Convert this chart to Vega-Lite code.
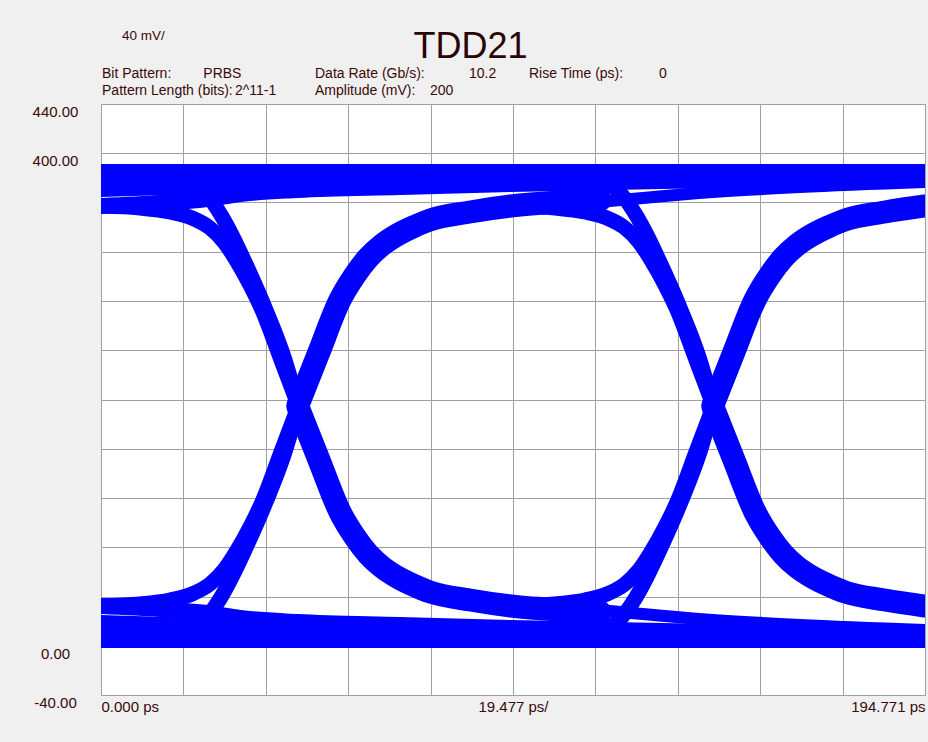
{
  "$schema": "https://vega.github.io/schema/vega-lite/v6.json",
  "width": 824,
  "height": 591,
  "autosize": "none",
  "padding": {"left": 101, "top": 104, "right": 3, "bottom": 47},
  "background": "#f0f0f0",
  "config": {"view": {"fill": "white", "stroke": "#a0a0a0", "strokeWidth": 1}, "font": "Liberation Sans"},
  "datasets": {
    "traces": [
      {"s":"S1","g":"settled","t":0,"v":383.55},{"s":"S1","g":"settled","t":97.39,"v":383.55},{"s":"S1","g":"settled","t":194.77,"v":383.55},
      {"s":"S1m","g":"settled","t":0,"v":5.89},{"s":"S1m","g":"settled","t":97.39,"v":5.89},{"s":"S1m","g":"settled","t":194.77,"v":5.89},

      {"s":"S2","g":"recent","t":0,"v":357.16},{"s":"S2","g":"recent","t":13.95,"v":359.6},{"s":"S2","g":"recent","t":25.05,"v":362.84},{"s":"S2","g":"recent","t":32.86,"v":366.9},{"s":"S2","g":"recent","t":46.57,"v":370.15},{"s":"S2","g":"recent","t":70.67,"v":372.59},{"s":"S2","g":"recent","t":96.91,"v":375.03},{"s":"S2","g":"recent","t":144.66,"v":378.28},{"s":"S2","g":"recent","t":194.77,"v":380.71},
      {"s":"S2m","g":"recent","t":0,"v":32.28},{"s":"S2m","g":"recent","t":13.95,"v":29.85},{"s":"S2m","g":"recent","t":25.05,"v":26.6},{"s":"S2m","g":"recent","t":32.86,"v":22.54},{"s":"S2m","g":"recent","t":46.57,"v":19.29},{"s":"S2m","g":"recent","t":70.67,"v":16.85},{"s":"S2m","g":"recent","t":96.91,"v":14.42},{"s":"S2m","g":"recent","t":144.66,"v":11.17},{"s":"S2m","g":"recent","t":194.77,"v":8.73},
      {"s":"S2b","g":"mid","t":0,"v":370.15},{"s":"S2b","g":"mid","t":23.4,"v":372.59},{"s":"S2b","g":"mid","t":46.57,"v":375.03},{"s":"S2b","g":"mid","t":96.91,"v":378.28},{"s":"S2b","g":"mid","t":144.66,"v":380.71},{"s":"S2b","g":"mid","t":194.77,"v":382.33},
      {"s":"S2bm","g":"mid","t":0,"v":19.29},{"s":"S2bm","g":"mid","t":23.4,"v":16.85},{"s":"S2bm","g":"mid","t":46.57,"v":14.42},{"s":"S2bm","g":"mid","t":96.91,"v":11.17},{"s":"S2bm","g":"mid","t":144.66,"v":8.73},{"s":"S2bm","g":"mid","t":194.77,"v":7.11},

      {"s":"S3","g":"after","t":46.57,"v":195.53},{"s":"S3","g":"after","t":51.53,"v":238.58},{"s":"S3","g":"after","t":56.49,"v":280.82},{"s":"S3","g":"after","t":60.04,"v":301.12},{"s":"S3","g":"after","t":63.11,"v":314.93},{"s":"S3","g":"after","t":66.42,"v":325.49},{"s":"S3","g":"after","t":69.97,"v":333.61},{"s":"S3","g":"after","t":73.75,"v":340.1},{"s":"S3","g":"after","t":77.77,"v":345.79},{"s":"S3","g":"after","t":87.22,"v":352.29},{"s":"S3","g":"after","t":96.91,"v":357.16},{"s":"S3","g":"after","t":108.49,"v":360.41},{"s":"S3","g":"after","t":117.95,"v":362.03},
      {"s":"S3m","g":"after","t":46.57,"v":193.9},{"s":"S3m","g":"after","t":51.53,"v":150.86},{"s":"S3m","g":"after","t":56.49,"v":108.63},{"s":"S3m","g":"after","t":60.04,"v":88.32},{"s":"S3m","g":"after","t":63.11,"v":74.52},{"s":"S3m","g":"after","t":66.42,"v":63.96},{"s":"S3m","g":"after","t":69.97,"v":55.84},{"s":"S3m","g":"after","t":73.75,"v":49.34},{"s":"S3m","g":"after","t":77.77,"v":43.65},{"s":"S3m","g":"after","t":87.22,"v":37.16},{"s":"S3m","g":"after","t":96.91,"v":32.28},{"s":"S3m","g":"after","t":108.49,"v":29.04},{"s":"S3m","g":"after","t":117.95,"v":27.41},
      {"s":"S4","g":"after","t":144.66,"v":195.53},{"s":"S4","g":"after","t":149.62,"v":238.58},{"s":"S4","g":"after","t":154.59,"v":280.82},{"s":"S4","g":"after","t":158.13,"v":301.12},{"s":"S4","g":"after","t":161.2,"v":314.93},{"s":"S4","g":"after","t":164.51,"v":325.49},{"s":"S4","g":"after","t":168.06,"v":333.61},{"s":"S4","g":"after","t":171.84,"v":340.1},{"s":"S4","g":"after","t":175.86,"v":345.79},{"s":"S4","g":"after","t":185.31,"v":352.29},{"s":"S4","g":"after","t":194.77,"v":357.16},
      {"s":"S4m","g":"after","t":144.66,"v":193.9},{"s":"S4m","g":"after","t":149.62,"v":150.86},{"s":"S4m","g":"after","t":154.59,"v":108.63},{"s":"S4m","g":"after","t":158.13,"v":88.32},{"s":"S4m","g":"after","t":161.2,"v":74.52},{"s":"S4m","g":"after","t":164.51,"v":63.96},{"s":"S4m","g":"after","t":168.06,"v":55.84},{"s":"S4m","g":"after","t":171.84,"v":49.34},{"s":"S4m","g":"after","t":175.86,"v":43.65},{"s":"S4m","g":"after","t":185.31,"v":37.16},{"s":"S4m","g":"after","t":194.77,"v":32.28},

      {"s":"S3b","g":"tail","t":115.58,"v":359.6},{"s":"S3b","g":"tail","t":144.66,"v":368.53},{"s":"S3b","g":"tail","t":165.22,"v":372.59},{"s":"S3b","g":"tail","t":194.77,"v":376.65},
      {"s":"S3bm","g":"tail","t":115.58,"v":29.85},{"s":"S3bm","g":"tail","t":144.66,"v":20.91},{"s":"S3bm","g":"tail","t":165.22,"v":16.85},{"s":"S3bm","g":"tail","t":194.77,"v":12.79},

      {"s":"S5","g":"before","t":103.76,"v":383.15},{"s":"S5","g":"before","t":114.4,"v":381.52},{"s":"S5","g":"before","t":119.13,"v":376.65},{"s":"S5","g":"before","t":123.14,"v":366.09},{"s":"S5","g":"before","t":126.45,"v":349.85},{"s":"S5","g":"before","t":129.06,"v":333.61},{"s":"S5","g":"before","t":131.89,"v":313.31},{"s":"S5","g":"before","t":137.09,"v":272.7},{"s":"S5","g":"before","t":141.58,"v":232.08},{"s":"S5","g":"before","t":144.66,"v":195.53},
      {"s":"S5m","g":"before","t":103.76,"v":6.29},{"s":"S5m","g":"before","t":114.4,"v":7.92},{"s":"S5m","g":"before","t":119.13,"v":12.79},{"s":"S5m","g":"before","t":123.14,"v":23.35},{"s":"S5m","g":"before","t":126.45,"v":39.39},{"s":"S5m","g":"before","t":129.06,"v":55.84},{"s":"S5m","g":"before","t":131.89,"v":76.14},{"s":"S5m","g":"before","t":137.09,"v":116.75},{"s":"S5m","g":"before","t":141.58,"v":157.36},{"s":"S5m","g":"before","t":144.66,"v":193.9},
      {"s":"S7","g":"before","t":5.67,"v":383.15},{"s":"S7","g":"before","t":16.31,"v":381.52},{"s":"S7","g":"before","t":21.04,"v":376.65},{"s":"S7","g":"before","t":25.05,"v":366.09},{"s":"S7","g":"before","t":28.36,"v":349.85},{"s":"S7","g":"before","t":30.96,"v":333.61},{"s":"S7","g":"before","t":33.8,"v":313.31},{"s":"S7","g":"before","t":39.0,"v":272.7},{"s":"S7","g":"before","t":43.49,"v":232.08},{"s":"S7","g":"before","t":46.57,"v":195.53},
      {"s":"S7m","g":"before","t":5.67,"v":6.29},{"s":"S7m","g":"before","t":16.31,"v":7.92},{"s":"S7m","g":"before","t":21.04,"v":12.79},{"s":"S7m","g":"before","t":25.05,"v":23.35},{"s":"S7m","g":"before","t":28.36,"v":39.39},{"s":"S7m","g":"before","t":30.96,"v":55.84},{"s":"S7m","g":"before","t":33.8,"v":76.14},{"s":"S7m","g":"before","t":39.0,"v":116.75},{"s":"S7m","g":"before","t":43.49,"v":157.36},{"s":"S7m","g":"before","t":46.57,"v":193.9},

      {"s":"S8","g":"before","t":0,"v":357.16},{"s":"S8","g":"before","t":9.22,"v":355.54},{"s":"S8","g":"before","t":16.31,"v":352.29},{"s":"S8","g":"before","t":21.51,"v":347.42},{"s":"S8","g":"before","t":25.76,"v":339.3},{"s":"S8","g":"before","t":29.07,"v":327.92},{"s":"S8","g":"before","t":31.91,"v":313.31},{"s":"S8","g":"before","t":35.22,"v":292.99},{"s":"S8","g":"before","t":38.06,"v":272.7},{"s":"S8","g":"before","t":42.55,"v":232.08},{"s":"S8","g":"before","t":46.57,"v":195.53},
      {"s":"S8m","g":"before","t":0,"v":32.28},{"s":"S8m","g":"before","t":9.22,"v":33.91},{"s":"S8m","g":"before","t":16.31,"v":37.16},{"s":"S8m","g":"before","t":21.51,"v":42.03},{"s":"S8m","g":"before","t":25.76,"v":50.15},{"s":"S8m","g":"before","t":29.07,"v":61.52},{"s":"S8m","g":"before","t":31.91,"v":76.14},{"s":"S8m","g":"before","t":35.22,"v":96.45},{"s":"S8m","g":"before","t":38.06,"v":116.75},{"s":"S8m","g":"before","t":42.55,"v":157.36},{"s":"S8m","g":"before","t":46.57,"v":193.9},
      {"s":"S6","g":"before","t":98.09,"v":357.16},{"s":"S6","g":"before","t":107.31,"v":355.54},{"s":"S6","g":"before","t":114.4,"v":352.29},{"s":"S6","g":"before","t":119.6,"v":347.42},{"s":"S6","g":"before","t":123.86,"v":339.3},{"s":"S6","g":"before","t":127.17,"v":327.92},{"s":"S6","g":"before","t":130.0,"v":313.31},{"s":"S6","g":"before","t":133.31,"v":292.99},{"s":"S6","g":"before","t":136.15,"v":272.7},{"s":"S6","g":"before","t":140.64,"v":232.08},{"s":"S6","g":"before","t":144.66,"v":195.53},
      {"s":"S6m","g":"before","t":98.09,"v":32.28},{"s":"S6m","g":"before","t":107.31,"v":33.91},{"s":"S6m","g":"before","t":114.4,"v":37.16},{"s":"S6m","g":"before","t":119.6,"v":42.03},{"s":"S6m","g":"before","t":123.86,"v":50.15},{"s":"S6m","g":"before","t":127.17,"v":61.52},{"s":"S6m","g":"before","t":130.0,"v":76.14},{"s":"S6m","g":"before","t":133.31,"v":96.45},{"s":"S6m","g":"before","t":136.15,"v":116.75},{"s":"S6m","g":"before","t":140.64,"v":157.36},{"s":"S6m","g":"before","t":144.66,"v":193.9}
    ]
  },
  "layer": [
    {
      "data": {"name": "traces"},
      "mark": {"type": "line", "color": "#0000ff", "strokeCap": "round", "strokeJoin": "round", "interpolate": "monotone", "clip": true},
      "encoding": {
        "x": {
          "field": "t", "type": "quantitative",
          "scale": {"domain": [0, 194.771], "nice": false, "zero": false},
          "axis": {
            "values": [0, 19.4771, 38.9542, 58.4313, 77.9084, 97.3855, 116.8626, 136.3397, 155.8168, 175.2939, 194.771],
            "grid": true, "gridColor": "#a0a0a0", "gridWidth": 1, "gridOpacity": 1,
            "domain": false, "ticks": false, "tickSize": 0,
            "labelPadding": 16, "labelBaseline": "alphabetic", "labelFlush": true, "labelOverlap": false,
            "labelExpr": "datum.value == 0 ? '0.000 ps' : (abs(datum.value - 97.3855) < 0.001 ? '19.477 ps/' : (abs(datum.value - 194.771) < 0.001 ? '194.771 ps' : ''))",
            "labelFontSize": 15, "labelColor": "#3a0a0a", "labelFont": "Liberation Sans",
            "title": null
          }
        },
        "y": {
          "field": "v", "type": "quantitative",
          "scale": {"domain": [-40, 440], "nice": false, "zero": false},
          "axis": {
            "values": [-40, 0, 40, 80, 120, 160, 200, 240, 280, 320, 360, 400, 440],
            "grid": true, "gridColor": "#a0a0a0", "gridWidth": 1, "gridOpacity": 1,
            "domain": false, "ticks": false, "tickSize": 0,
            "labelPadding": 46, "labelAlign": "center", "labelBaseline": "alphabetic", "labelOffset": 12.5, "labelOverlap": false,
            "labelExpr": "datum.value == 440 ? '440.00' : datum.value == 400 ? '400.00' : datum.value == 0 ? '0.00' : datum.value == -40 ? '-40.00' : ''",
            "labelFontSize": 15, "labelColor": "#3a0a0a", "labelFont": "Liberation Sans",
            "title": null
          }
        },
        "detail": {"field": "s", "type": "nominal"},
        "strokeWidth": {"field": "g", "type": "nominal", "scale": {"type": "ordinal", "domain": ["settled", "recent", "mid", "after", "tail", "before"], "range": [19, 16, 14, 23, 12, 15]}, "legend": null}
      }
    },
    {"data": {"values": [{}]}, "mark": {"type": "text", "text": "TDD21", "align": "center", "baseline": "alphabetic", "fontSize": 36, "font": "Liberation Sans", "color": "#2a0505", "clip": false},
     "encoding": {"x": {"datum": 87.34, "type": "quantitative"}, "y": {"datum": 477.36, "type": "quantitative"}}},
    {"data": {"values": [{}]}, "mark": {"type": "text", "text": "40 mV/", "align": "left", "baseline": "alphabetic", "fontSize": 13.5, "font": "Liberation Sans", "color": "#3a0a0a", "clip": false},
     "encoding": {"x": {"datum": 4.96, "type": "quantitative"}, "y": {"datum": 491.98, "type": "quantitative"}}},
    {"data": {"values": [{}]}, "mark": {"type": "text", "text": "Bit Pattern:", "align": "left", "baseline": "alphabetic", "fontSize": 14, "font": "Liberation Sans", "color": "#3a0a0a", "clip": false},
     "encoding": {"x": {"datum": 0.24, "type": "quantitative"}, "y": {"datum": 461.11, "type": "quantitative"}}},
    {"data": {"values": [{}]}, "mark": {"type": "text", "text": "PRBS", "align": "left", "baseline": "alphabetic", "fontSize": 14, "font": "Liberation Sans", "color": "#3a0a0a", "clip": false},
     "encoding": {"x": {"datum": 24.18, "type": "quantitative"}, "y": {"datum": 461.11, "type": "quantitative"}}},
    {"data": {"values": [{}]}, "mark": {"type": "text", "text": "Data Rate (Gb/s):", "align": "left", "baseline": "alphabetic", "fontSize": 14, "font": "Liberation Sans", "color": "#3a0a0a", "clip": false},
     "encoding": {"x": {"datum": 50.58, "type": "quantitative"}, "y": {"datum": 461.11, "type": "quantitative"}}},
    {"data": {"values": [{}]}, "mark": {"type": "text", "text": "10.2", "align": "left", "baseline": "alphabetic", "fontSize": 14, "font": "Liberation Sans", "color": "#3a0a0a", "clip": false},
     "encoding": {"x": {"datum": 86.98, "type": "quantitative"}, "y": {"datum": 461.11, "type": "quantitative"}}},
    {"data": {"values": [{}]}, "mark": {"type": "text", "text": "Rise Time (ps):", "align": "left", "baseline": "alphabetic", "fontSize": 14, "font": "Liberation Sans", "color": "#3a0a0a", "clip": false},
     "encoding": {"x": {"datum": 101.17, "type": "quantitative"}, "y": {"datum": 461.11, "type": "quantitative"}}},
    {"data": {"values": [{}]}, "mark": {"type": "text", "text": "0", "align": "left", "baseline": "alphabetic", "fontSize": 14, "font": "Liberation Sans", "color": "#3a0a0a", "clip": false},
     "encoding": {"x": {"datum": 131.89, "type": "quantitative"}, "y": {"datum": 461.11, "type": "quantitative"}}},
    {"data": {"values": [{}]}, "mark": {"type": "text", "text": "Pattern Length (bits):", "align": "left", "baseline": "alphabetic", "fontSize": 14, "font": "Liberation Sans", "color": "#3a0a0a", "clip": false},
     "encoding": {"x": {"datum": 0.24, "type": "quantitative"}, "y": {"datum": 447.31, "type": "quantitative"}}},
    {"data": {"values": [{}]}, "mark": {"type": "text", "text": "2^11-1", "align": "left", "baseline": "alphabetic", "fontSize": 14, "font": "Liberation Sans", "color": "#3a0a0a", "clip": false},
     "encoding": {"x": {"datum": 31.67, "type": "quantitative"}, "y": {"datum": 447.31, "type": "quantitative"}}},
    {"data": {"values": [{}]}, "mark": {"type": "text", "text": "Amplitude (mV):", "align": "left", "baseline": "alphabetic", "fontSize": 14, "font": "Liberation Sans", "color": "#3a0a0a", "clip": false},
     "encoding": {"x": {"datum": 50.58, "type": "quantitative"}, "y": {"datum": 447.31, "type": "quantitative"}}},
    {"data": {"values": [{}]}, "mark": {"type": "text", "text": "200", "align": "left", "baseline": "alphabetic", "fontSize": 14, "font": "Liberation Sans", "color": "#3a0a0a", "clip": false},
     "encoding": {"x": {"datum": 77.77, "type": "quantitative"}, "y": {"datum": 447.31, "type": "quantitative"}}}
  ]
}
